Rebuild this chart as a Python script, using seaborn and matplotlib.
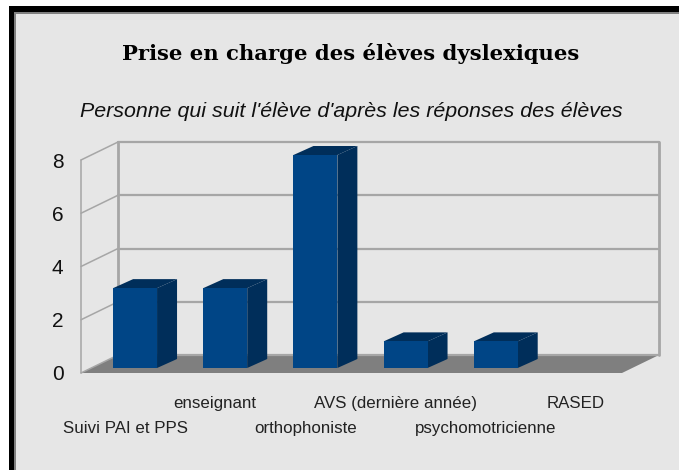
import matplotlib
matplotlib.use("Agg")
import matplotlib.pyplot as plt
from matplotlib.patches import Polygon, Rectangle
from matplotlib.transforms import Affine2D
import seaborn as sns

categories = ["Suivi PAI et PPS", "enseignant", "orthophoniste",
              "AVS (dernière année)", "psychomotricienne", "RASED"]
values = [3, 3, 8, 1, 1, 0]
y_ticks = [0, 2, 4, 6, 8]
title = "Prise en charge des élèves dyslexiques"
subtitle = "Personne qui suit l'élève d'après les réponses des élèves"

W, H = 679, 470
sns.set_theme(style="white")
plt.rcParams["font.family"] = ["Liberation Sans", "DejaVu Sans"]

fig = plt.figure(figsize=(W / 100, H / 100), dpi=100, facecolor="white")

# frame + grey panel, in pixels from the top left
def fig_rect(x0, y0, x1, y1, color):
    fig.patches.append(Rectangle((x0 / W, 1 - y1 / H), (x1 - x0) / W, (y1 - y0) / H,
                                 transform=fig.transFigure, color=color, lw=0, zorder=-5))

fig_rect(9, 6, W, H, "black")
fig_rect(14, 12, W, H, "#808080")
fig_rect(16, 14, W, H, "#e6e6e6")

# axes sit on the plane of the bar fronts
ax = fig.add_axes([90 / W, 1 - 368 / H, 541 / W, 213 / H])
ax.patch.set_alpha(0)
sns.barplot(x=categories, y=values, ax=ax, color="#004586", width=0.487,
            saturation=1, zorder=5, edgecolor="none", linewidth=0)
ax.set_xlim(-0.5, 5.5)
ax.set_ylim(0, 8)
sns.despine(ax=ax, left=True, bottom=True)

front = Affine2D().translate(-9, -5)
back = Affine2D().translate(28, 13)
wall = "#a6a6a6"

# floor
x0, x1 = -0.5, 5.5
fp = ax.transData + front
bp = ax.transData + back
pts = [fp.transform((x0, 0)), fp.transform((x1, 0)), bp.transform((x1, 0)), bp.transform((x0, 0))]
ax.add_patch(Polygon(pts, closed=True, transform=None, facecolor="#7f7f7f",
                     edgecolor="none", zorder=1, clip_on=False))

# back wall grid and left side wall
for v in y_ticks:
    ax.plot([x0, x1], [v, v], transform=bp, color=wall, lw=1.6, zorder=2, clip_on=False)
    a, b = fp.transform((x0, v)), bp.transform((x0, v))
    ax.plot([a[0], b[0]], [a[1], b[1]], transform=None, color=wall, lw=1.1, zorder=2, clip_on=False)
ax.plot([x0, x0], [0, 8], transform=bp, color=wall, lw=2, zorder=2, clip_on=False)
ax.plot([x1, x1], [0, 8], transform=bp, color=wall, lw=2, zorder=2, clip_on=False)
ax.plot([x0, x0], [0, 8], transform=fp, color=wall, lw=1.1, zorder=2, clip_on=False)

# depth of the bars: side and top faces
dx, dy = 20, 9
for bar in list(ax.patches):
    if not isinstance(bar, Rectangle) or bar.get_height() == 0:
        continue
    xa = bar.get_x()
    xb = xa + bar.get_width()
    h = bar.get_height()
    p = ax.transData.transform([(xa, h), (xb, h), (xb, 0)])
    side = [p[1], p[1] + (dx, dy), p[2] + (dx, dy), p[2]]
    top = [p[0], p[0] + (dx, dy), p[1] + (dx, dy), p[1]]
    ax.add_patch(Polygon(side, closed=True, transform=None, facecolor="#002e5a",
                         edgecolor="none", zorder=4, clip_on=False))
    ax.add_patch(Polygon(top, closed=True, transform=None, facecolor="#002e5a",
                         edgecolor="none", zorder=4, clip_on=False))

# ticks, moved onto the front plane, labels staggered on two rows
ax.set_yticks(y_ticks)
ax.set_yticklabels(y_ticks, fontsize=15, color="#111111")
ax.tick_params(axis="y", length=0, pad=19)
for lab in ax.get_yticklabels():
    lab.set_transform(lab.get_transform() + Affine2D().translate(0, -5))
ax.tick_params(axis="x", length=0, labelsize=12.2, labelcolor="#222222")
for i, tick in enumerate(ax.xaxis.get_major_ticks()):
    tick.set_pad(38 if i % 2 == 0 else 20)
for lab in ax.get_xticklabels():
    lab.set_transform(lab.get_transform() + Affine2D().translate(-10, 0))
ax.set_xlabel("")

fig.text(351 / W, 1 - 54 / H, title, ha="center", va="center", fontsize=15.2,
         fontweight="bold", family=["DejaVu Serif"], color="black")
fig.text(351 / W, 1 - 111 / H, subtitle, ha="center", va="center", fontsize=15.4,
         style="italic", color="#111111")

fig.savefig("out.png", dpi=100)
